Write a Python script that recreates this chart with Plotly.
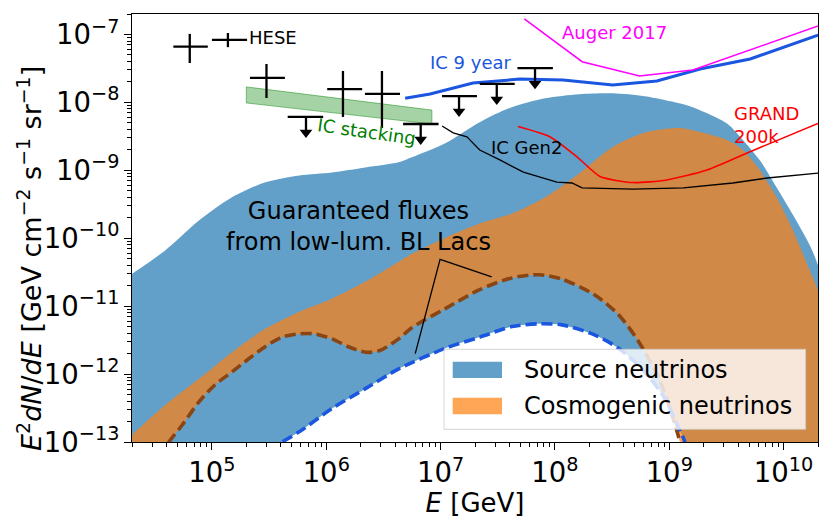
import numpy as np
import plotly.graph_objects as go

# ---------------- data (E in GeV, flux E^2 dN/dE in GeV cm^-2 s^-1 sr^-1) ----------------
# Source neutrinos band (upper / lower edges)
src_hi_E = [1.8e4, 2.0e4, 3.9e4, 7.7e4, 1.5e5, 2.9e5, 5.8e5, 1.12e6, 2.2e6, 4.3e6, 5.6e6, 1.1e7,
            2.2e7, 4.2e7, 8.2e7, 1.63e8, 3.2e8, 6.1e8, 1.22e9, 1.6e9, 3.2e9, 4.4e9, 6.2e9, 8.7e9,
            1.21e10, 1.7e10, 2.0e10, 2.5e10, 3.2e10, 4.0e10]
src_hi_F = [2.7e-11, 3.0e-11, 6.6e-11, 1.82e-10, 4.0e-10, 6.6e-10, 8.4e-10, 9.3e-10, 1.1e-9, 1.31e-9,
            1.55e-9, 2.5e-9, 5.1e-9, 8.5e-9, 1.15e-8, 1.32e-8, 1.36e-8, 1.23e-8, 9.7e-9, 8.5e-9,
            4.9e-9, 2.8e-9, 1.4e-9, 5.6e-10, 2.2e-10, 7.8e-11, 4.0e-11, 1.0e-11, 1.0e-12, 1.0e-14]
src_lo_E = [1.8e4, 2.0e5, 4.1e5, 5.8e5, 1.12e6, 2.2e6, 4.3e6, 1.1e7, 2.2e7, 4.2e7, 7.3e7, 1.15e8,
            2.2e8, 3.6e8, 6.1e8, 9.2e8, 1.22e9, 1.37e9, 1.6e9, 4.0e10]
src_lo_F = [1.0e-15, 5.0e-14, 1.0e-13, 1.41e-13, 3.1e-13, 6.1e-13, 1.19e-12, 2.4e-12, 3.5e-12,
            5.0e-12, 5.5e-12, 5.3e-12, 3.8e-12, 2.4e-12, 1.08e-12, 4.3e-13, 1.55e-13, 1.0e-13,
            2.0e-14, 1.0e-15]

# Cosmogenic neutrinos band (upper / lower edges)
cos_hi_E = [1.8e4, 2.0e4, 3.9e4, 7.7e4, 1.5e5, 2.9e5, 5.8e5, 1.12e6, 2.2e6, 4.3e6, 5.6e6, 1.1e7,
            2.2e7, 4.2e7, 8.2e7, 1.63e8, 3.2e8, 6.1e8, 1.22e9, 1.6e9, 3.2e9, 4.4e9, 6.2e9, 8.7e9,
            1.21e10, 1.7e10, 1.96e10, 2.5e10, 3.0e10, 4.0e10]
cos_hi_F = [1.07e-13, 1.27e-13, 3.5e-13, 8.5e-13, 2.1e-12, 4.6e-12, 8.3e-12, 1.29e-11, 2.3e-11,
            4.5e-11, 5.9e-11, 1.02e-10, 1.65e-10, 2.3e-10, 4.0e-10, 9.0e-10, 2.2e-9, 3.6e-9, 4.2e-9,
            3.9e-9, 2.8e-9, 2.0e-9, 1.0e-9, 4.0e-10, 1.3e-10, 3.3e-11, 1.87e-11, 3.0e-12, 1.0e-13,
            1.0e-15]
cos_lo_E = [1.8e4, 2.6e4, 4.2e4, 5.5e4, 7.7e4, 1.06e5, 1.5e5, 2.1e5, 2.9e5, 4.1e5, 5.8e5, 8.0e5,
            1.12e6, 1.58e6, 2.2e6, 2.9e6, 4.3e6, 5.6e6, 1.1e7, 2.2e7, 4.2e7, 7.3e7, 1.15e8, 2.2e8,
            3.6e8, 5.4e8, 8.3e8, 1.24e9, 1.5e9, 4.0e10]
cos_lo_F = [1.0e-15, 3.0e-14, 1.0e-13, 1.78e-13, 3.9e-13, 6.9e-13, 1.08e-12, 1.68e-12, 2.5e-12,
            3.5e-12, 3.9e-12, 3.9e-12, 3.3e-12, 2.5e-12, 2.1e-12, 2.2e-12, 3.3e-12, 4.8e-12, 9.2e-12,
            1.75e-11, 2.6e-11, 2.9e-11, 2.5e-11, 1.48e-11, 7.5e-12, 3.0e-12, 8.0e-13, 1.0e-13,
            2.0e-14, 1.0e-15]

# IceCube HESE data points
hese_E = [6.4e4, 1.38e5, 3.0e5, 1.4e6, 3.07e6]
hese_Elo = [4.6e4, 1.0e5, 2.15e5, 1.02e6, 2.18e6]
hese_Ehi = [9.2e4, 2.03e5, 4.35e5, 2.06e6, 4.42e6]
hese_F = [6.6e-8, 8.3e-8, 2.29e-8, 1.57e-8, 1.33e-8]
hese_Flo = [3.8e-8, 6.5e-8, 1.16e-8, 6.1e-9, 4.2e-9]
hese_Fhi = [1.02e-7, 1.05e-7, 3.67e-8, 2.9e-8, 2.9e-8]

# HESE upper limits
ul_E = [6.65e5, 6.7e6, 1.45e7, 3.1e7, 6.7e7]
ul_Elo = [4.6e5, 4.7e6, 1.03e7, 2.2e7, 4.7e7]
ul_Ehi = [9.4e5, 9.6e6, 2.08e7, 4.45e7, 9.6e7]
ul_F = [6.1e-9, 4.8e-9, 1.24e-8, 1.87e-8, 3.2e-8]

# IC stacking band
stack_E = [2.0e5, 8.4e6]
stack_hi = [1.69e-8, 7.7e-9]
stack_lo = [9.8e-9, 4.8e-9]

# IceCube 9 year
ic9_E = [4.9e6, 8.1e6, 1.92e7, 4.95e7, 1.18e8, 3.2e8, 7.8e8, 1.86e9, 5.1e9, 2.0e10]
ic9_F = [1.15e-8, 1.33e-8, 1.93e-8, 2.2e-8, 2.14e-8, 1.8e-8, 2.07e-8, 3.1e-8, 4.35e-8, 9.8e-8]

# Auger 2017
auger_E = [5.4e7, 1.73e8, 5.5e8, 1.61e9, 2.0e10]
auger_F = [1.69e-7, 3.97e-8, 2.44e-8, 3.0e-8, 1.33e-7]

# GRAND 200k
grand_E = [4.75e7, 9.1e7, 1.56e8, 2.48e8, 4.8e8, 9.5e8, 2.14e9, 5.1e9, 2.0e10]
grand_F = [4.4e-9, 3.1e-9, 1.58e-9, 8.1e-10, 6.6e-10, 7.2e-10, 1.01e-9, 1.88e-9, 4.9e-9]

# IceCube Gen2
gen2_E = [1.03e7, 1.29e7, 1.7e7, 2.2e7, 3.3e7, 5.3e7, 1.04e8, 1.41e8, 1.73e8, 4.8e8, 1.33e9,
          3.6e9, 7.2e9, 2.0e10]
gen2_F = [4.5e-9, 3.55e-9, 3.1e-9, 1.99e-9, 1.42e-9, 9.4e-10, 6.7e-10, 6.5e-10, 5.5e-10, 5.3e-10,
          5.5e-10, 6.5e-10, 7.7e-10, 9.1e-10]

# pointer lines for the "Guaranteed fluxes" label (end, apex, end)
ptr_E = [2.8e7, 9.9e6, 6.0e6]
ptr_F = [2.7e-11, 4.9e-11, 2.0e-12]

# ---------------- styles ----------------
C0A = "rgba(31,119,180,0.7)"
C1A = "rgba(255,127,14,0.7)"
BLUE = "#1a56e0"
BROWN = "#8b4513"
FONT = "DejaVu Sans"

fig = go.Figure()


def band(xh, yh, xl, yl):
    return list(xh) + list(xl)[::-1], list(yh) + list(yl)[::-1]


bx, by = band(src_hi_E, src_hi_F, src_lo_E, src_lo_F)
fig.add_trace(go.Scatter(x=bx, y=by, fill="toself", fillcolor=C0A, mode="lines",
                         line=dict(width=0, shape="spline", smoothing=0.8),
                         hoverinfo="skip", showlegend=False))
ox, oy = band(cos_hi_E, cos_hi_F, cos_lo_E, cos_lo_F)
fig.add_trace(go.Scatter(x=ox, y=oy, fill="toself", fillcolor=C1A, mode="lines",
                         line=dict(width=0, shape="spline", smoothing=0.8),
                         hoverinfo="skip", showlegend=False))

# IC stacking band
sx, sy = band(stack_E, stack_hi, stack_E, stack_lo)
fig.add_trace(go.Scatter(x=sx + [sx[0]], y=sy + [sy[0]], fill="toself",
                         fillcolor="rgba(0,128,0,0.35)", mode="lines",
                         line=dict(width=1, color="rgba(0,128,0,0.45)"),
                         hoverinfo="skip", showlegend=False))

# dashed guaranteed fluxes
fig.add_trace(go.Scatter(x=cos_lo_E, y=cos_lo_F, mode="lines",
                         line=dict(color=BROWN, width=3.6, dash="11px,5px",
                                   shape="spline", smoothing=0.8), showlegend=False))
fig.add_trace(go.Scatter(x=src_lo_E, y=src_lo_F, mode="lines",
                         line=dict(color=BLUE, width=3.6, dash="11px,5px",
                                   shape="spline", smoothing=0.8), showlegend=False))

# experiment curves
fig.add_trace(go.Scatter(x=ic9_E, y=ic9_F, mode="lines", line=dict(color=BLUE, width=3),
                         showlegend=False))
fig.add_trace(go.Scatter(x=auger_E, y=auger_F, mode="lines", line=dict(color="#ff00ff", width=1.5),
                         showlegend=False))
fig.add_trace(go.Scatter(x=grand_E, y=grand_F, mode="lines",
                         line=dict(color="#ff0000", width=1.6, shape="spline", smoothing=0.6),
                         showlegend=False))
fig.add_trace(go.Scatter(x=gen2_E, y=gen2_F, mode="lines", line=dict(color="black", width=1.3),
                         showlegend=False))

# pointer lines
fig.add_trace(go.Scatter(x=ptr_E, y=ptr_F, mode="lines", line=dict(color="black", width=1.3),
                         showlegend=False))

# HESE crosses
fig.add_trace(go.Scatter(
    x=hese_E, y=hese_F, mode="markers", marker=dict(size=1, color="black", opacity=0),
    error_x=dict(type="data", symmetric=False,
                 array=[h - e for h, e in zip(hese_Ehi, hese_E)],
                 arrayminus=[e - l for e, l in zip(hese_E, hese_Elo)],
                 color="black", thickness=2.3, width=0),
    error_y=dict(type="data", symmetric=False,
                 array=[h - f for h, f in zip(hese_Fhi, hese_F)],
                 arrayminus=[f - l for f, l in zip(hese_F, hese_Flo)],
                 color="black", thickness=2.3, width=0),
    showlegend=False))

# upper limits
fig.add_trace(go.Scatter(
    x=ul_E, y=ul_F, mode="markers", marker=dict(size=1, color="black", opacity=0),
    error_x=dict(type="data", symmetric=False,
                 array=[h - e for h, e in zip(ul_Ehi, ul_E)],
                 arrayminus=[e - l for e, l in zip(ul_E, ul_Elo)],
                 color="black", thickness=2.3, width=0),
    showlegend=False))
stem_x, stem_y = [], []
for e, f in zip(ul_E, ul_F):
    stem_x += [e, e, None]
    stem_y += [f, f * 0.63, None]
fig.add_trace(go.Scatter(x=stem_x, y=stem_y, mode="lines", line=dict(color="black", width=2.3),
                         showlegend=False))
fig.add_trace(go.Scatter(x=ul_E, y=[f * 0.59 for f in ul_F], mode="markers",
                         marker=dict(symbol="triangle-down", size=11, color="black",
                                     line=dict(width=0)),
                         showlegend=False))

# ---------------- text labels ----------------
ann = []


def label(x, y, text, color, size=18, xanchor="center", angle=0, align="center"):
    ann.append(dict(x=x, y=y, xref="x", yref="y", text=text, showarrow=False,
                    font=dict(family=FONT, size=size, color=color), xanchor=xanchor,
                    yanchor="middle", textangle=angle, align=align))


label(5.307, -7.052, "HESE", "black", xanchor="left")
label(7.27, -7.42, "IC 9 year", BLUE)
label(8.517, -6.978, "Auger 2017", "#ff00ff")
label(9.549, -8.333, "GRAND<br>200k", "#ff0000", xanchor="left", align="left")
label(7.752, -8.657, "IC Gen2", "black")
label(6.348, -8.436, "IC stacking", "green", angle=8)
label(6.278, -9.834, "Guaranteed fluxes<br>from low-lum. BL Lacs", "black", size=24)

# y-axis title (placed as rotated text)
ann.append(dict(x=-0.1487, y=0.43, xref="paper", yref="paper", showarrow=False,
                text="<i>E</i><sup>2</sup><i>dN</i>/<i>dE</i> [GeV cm<sup>−2</sup> "
                     "s<sup>−1</sup> sr<sup>−1</sup>]",
                textangle=-90, xanchor="center", yanchor="middle",
                font=dict(family=FONT, size=27, color="black")))

# ---------------- manual legend ----------------
shapes = [
    dict(type="rect", xref="paper", yref="paper", x0=0.4548, x1=0.982, y0=0.0297, y1=0.2166,
         fillcolor="rgba(255,255,255,0.8)", line=dict(color="rgba(204,204,204,0.8)", width=1)),
    dict(type="rect", xref="paper", yref="paper", x0=0.4675, x1=0.5394, y0=0.1495, y1=0.1876,
         fillcolor=C0A, line=dict(width=0)),
    dict(type="rect", xref="paper", yref="paper", x0=0.4675, x1=0.5394, y0=0.0647, y1=0.1035,
         fillcolor=C1A, line=dict(width=0)),
]
for yy, txt in [(0.168, "Source neutrinos"), (0.0841, "Cosmogenic neutrinos")]:
    ann.append(dict(x=0.5685, y=yy, xref="paper", yref="paper", text=txt, showarrow=False,
                    xanchor="left", yanchor="middle", font=dict(family=FONT, size=24, color="black")))

axis_common = dict(type="log", showline=True, linecolor="black", linewidth=1.3, mirror=True,
                   ticks="outside", ticklen=7, tickwidth=1.3, tickcolor="black", dtick=1,
                   exponentformat="power", showgrid=False, zeroline=False, automargin=False,
                   tickfont=dict(family=FONT, size=22, color="black"),
                   minor=dict(ticks="outside", ticklen=4, tickwidth=1, tickcolor="black",
                              dtick="D1", showgrid=False))

fig.update_layout(
    width=831, height=531,
    margin=dict(l=132, r=13, t=14, b=89, autoexpand=False),
    paper_bgcolor="white", plot_bgcolor="white",
    font=dict(family=FONT, color="black"),
    xaxis=dict(axis_common, range=[np.log10(2e4), np.log10(2e10)],
               title=dict(text="<i>E</i> [GeV]", font=dict(family=FONT, size=26), standoff=4)),
    yaxis=dict(axis_common, range=[-13, np.log10(2e-7)]),
    shapes=shapes, annotations=ann, showlegend=False,
)

fig.write_html("out.html", config={"displayModeBar": False},
               post_script="document.body.style.margin='0';document.body.style.padding='0';")
